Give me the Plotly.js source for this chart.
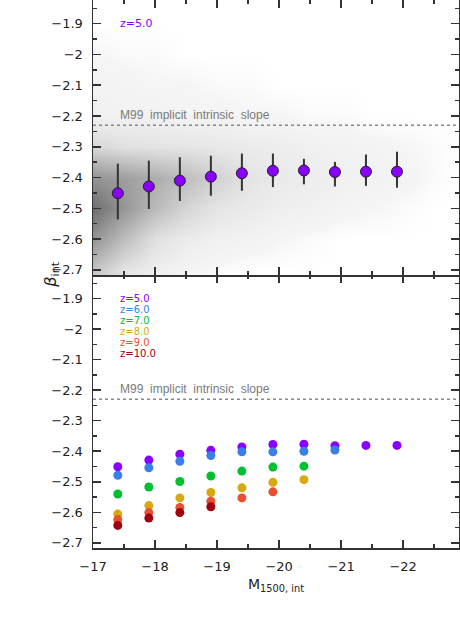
<!DOCTYPE html>
<html>
<head>
<meta charset="utf-8">
<script src="https://cdn.plot.ly/plotly-3.0.1.min.js"></script>
<style>
  body { margin: 0; background: #fff; }
  #plot { width: 460px; height: 643px; }
</style>
</head>
<body>
<div id="plot"></div>
<script>
// absolute UV magnitude bins
let mag = [-17.4, -17.9, -18.4, -18.9, -19.4, -19.9, -20.4, -20.9, -21.4, -21.9];

// top panel: z=5 median slope with 16-84 range
let beta5 = [-2.451, -2.429, -2.410, -2.397, -2.386, -2.378, -2.377, -2.382, -2.381, -2.381];
let beta5Hi = [-2.355, -2.345, -2.334, -2.329, -2.322, -2.322, -2.339, -2.349, -2.325, -2.316];
let beta5Lo = [-2.536, -2.502, -2.476, -2.459, -2.443, -2.431, -2.422, -2.429, -2.427, -2.433];

// bottom panel: median slope per redshift
let redshifts = ['z=5.0', 'z=6.0', 'z=7.0', 'z=8.0', 'z=9.0', 'z=10.0'];
let zColors = ['#8a00ff', '#3a7fe8', '#00c030', '#d8a810', '#e85030', '#a00010'];
let beta6 = [-2.479, -2.454, -2.433, -2.414, -2.402, -2.402, -2.400, -2.396];
let beta7 = [-2.540, -2.517, -2.499, -2.481, -2.465, -2.452, -2.449];
let beta8 = [-2.606, -2.578, -2.553, -2.535, -2.520, -2.502, -2.493];
let beta9 = [-2.624, -2.601, -2.584, -2.564, -2.553, -2.533];
let beta10 = [-2.643, -2.619, -2.601, -2.582];

let m99 = -2.23;
let m99Label = 'M99\u00a0 implicit\u00a0 intrinsic\u00a0 slope';

// grey density of the z=5 galaxy population (relative)
let densX = [-16.5, -17, -17.5, -18, -18.5, -19, -19.5, -20, -20.5, -21, -21.5, -22, -22.5, -23];
let densY = [-2.8, -2.7, -2.6, -2.5, -2.4, -2.3, -2.2, -2.1, -2.0, -1.9, -1.8];
let density = [
  [0.22, 0.22, 0.06, 0.02, 0, 0, 0, 0, 0, 0, 0, 0, 0, 0],
  [0.32, 0.32, 0.13, 0.06, 0.03, 0.01, 0, 0, 0, 0, 0, 0, 0, 0],
  [0.62, 0.62, 0.36, 0.15, 0.08, 0.05, 0.04, 0.02, 0.01, 0, 0, 0, 0, 0],
  [0.85, 0.85, 0.60, 0.38, 0.22, 0.12, 0.09, 0.06, 0.05, 0.03, 0.02, 0.01, 0, 0],
  [0.62, 0.62, 0.55, 0.46, 0.36, 0.24, 0.13, 0.09, 0.07, 0.05, 0.04, 0.03, 0.01, 0],
  [0.20, 0.20, 0.15, 0.13, 0.12, 0.10, 0.08, 0.07, 0.05, 0.04, 0.03, 0.02, 0.01, 0],
  [0.05, 0.05, 0.04, 0.04, 0.03, 0.03, 0.02, 0.02, 0.01, 0.01, 0, 0, 0, 0],
  [0.03, 0.03, 0.03, 0.02, 0.02, 0.01, 0.01, 0, 0, 0, 0, 0, 0, 0],
  [0.02, 0.02, 0.01, 0.01, 0, 0, 0, 0, 0, 0, 0, 0, 0, 0],
  [0, 0, 0, 0, 0, 0, 0, 0, 0, 0, 0, 0, 0, 0],
  [0, 0, 0, 0, 0, 0, 0, 0, 0, 0, 0, 0, 0, 0]
];

let bottomSeries = [beta5, beta6, beta7, beta8, beta9, beta10];

let traces = [];

traces.push({
  type: 'heatmap',
  x: densX,
  y: densY,
  z: density,
  xaxis: 'x2',
  yaxis: 'y2',
  zsmooth: 'best',
  zmin: 0,
  zmax: 1,
  showscale: false,
  hoverinfo: 'skip',
  colorscale: [[0, '#ffffff'], [0.02, '#f5f5f5'], [1, '#555555']]
});

traces.push({
  type: 'scatter',
  mode: 'markers',
  x: mag,
  y: beta5,
  xaxis: 'x2',
  yaxis: 'y2',
  error_y: {
    type: 'data',
    symmetric: false,
    array: beta5Hi.map((v, i) => v - beta5[i]),
    arrayminus: beta5.map((v, i) => v - beta5Lo[i]),
    color: '#333333',
    thickness: 2,
    width: 0
  },
  marker: { color: zColors[0], size: 11, line: { color: '#222222', width: 1 } },
  showlegend: false
});

bottomSeries.forEach((ys, k) => {
  traces.push({
    type: 'scatter',
    mode: 'markers',
    x: mag.slice(0, ys.length),
    y: ys,
    xaxis: 'x',
    yaxis: 'y',
    marker: { color: zColors[k], size: 9 },
    name: redshifts[k],
    showlegend: false
  });
});

let tickFont = { family: 'DejaVu Sans', size: 13, color: '#222222' };
let frame = {
  showline: true,
  mirror: 'ticks',
  linecolor: '#333333',
  linewidth: 1.5,
  ticks: 'inside',
  ticklen: 8,
  tickwidth: 1.5,
  tickcolor: '#333333',
  showgrid: false,
  zeroline: false,
  tickfont: tickFont,
  ticklabelstandoff: 6
};

let xFrame = Object.assign({}, frame, {
  range: [-17, -22.9],
  tick0: -17,
  dtick: 1,
  minor: { ticks: 'inside', ticklen: 4, tickwidth: 1.5, tickcolor: '#333333', dtick: 0.5, showgrid: false }
});
let yFrame = Object.assign({}, frame, {
  range: [-2.717, -1.823],
  tick0: 0,
  dtick: 0.1,
  minor: { ticks: 'inside', ticklen: 4, tickwidth: 1.5, tickcolor: '#333333', dtick: 0.05, showgrid: false }
});

let annotations = [
  {
    xref: 'x2', yref: 'y2', x: -17.4, y: -1.9, xanchor: 'left', yanchor: 'middle',
    text: redshifts[0], showarrow: false,
    font: { family: 'DejaVu Sans', size: 11, color: zColors[0] }
  },
  {
    xref: 'x2', yref: 'y2', x: -17.4, y: m99, xanchor: 'left', yanchor: 'bottom', yshift: 1,
    text: m99Label, showarrow: false,
    font: { family: 'Liberation Sans', size: 12, color: '#7a7a7a' }
  },
  {
    xref: 'x', yref: 'y', x: -17.4, y: m99, xanchor: 'left', yanchor: 'bottom', yshift: 1,
    text: m99Label, showarrow: false,
    font: { family: 'Liberation Sans', size: 12, color: '#7a7a7a' }
  },
  {
    xref: 'paper', yref: 'paper', x: -0.15, y: 0.498, textangle: -90,
    text: '<i>β</i><sub>int</sub>', showarrow: false,
    font: { family: 'DejaVu Sans', size: 16, color: '#222222' }
  },
  {
    xref: 'paper', yref: 'paper', x: 0.5, y: -0.068, yanchor: 'middle',
    text: 'M<sub>1500, int</sub>', showarrow: false,
    font: { family: 'DejaVu Sans', size: 14, color: '#222222' }
  }
];

redshifts.forEach((label, k) => {
  annotations.push({
    xref: 'x', yref: 'y', x: -17.4, y: -1.9 - 0.0359 * k,
    xanchor: 'left', yanchor: 'middle',
    text: label, showarrow: false,
    font: { family: 'DejaVu Sans', size: 10, color: zColors[k] }
  });
});

let layout = {
  width: 460,
  height: 643,
  margin: { l: 93, r: 1, t: 0, b: 95 },
  paper_bgcolor: '#ffffff',
  plot_bgcolor: '#ffffff',
  showlegend: false,
  xaxis: Object.assign({}, xFrame, { anchor: 'y' }),
  yaxis: Object.assign({}, yFrame, { domain: [0, 0.498], anchor: 'x' }),
  xaxis2: Object.assign({}, xFrame, { anchor: 'y2', matches: 'x', showticklabels: false }),
  yaxis2: Object.assign({}, yFrame, { domain: [0.498, 1], anchor: 'x2' }),
  shapes: [
    { type: 'line', xref: 'x domain', yref: 'y', x0: 0, x1: 1, y0: m99, y1: m99,
      line: { color: '#888888', width: 1.5, dash: 'dot' } },
    { type: 'line', xref: 'x2 domain', yref: 'y2', x0: 0, x1: 1, y0: m99, y1: m99,
      line: { color: '#888888', width: 1.5, dash: 'dot' } }
  ],
  annotations: annotations
};

Plotly.newPlot('plot', traces, layout, { staticPlot: true });
</script>
</body>
</html>
